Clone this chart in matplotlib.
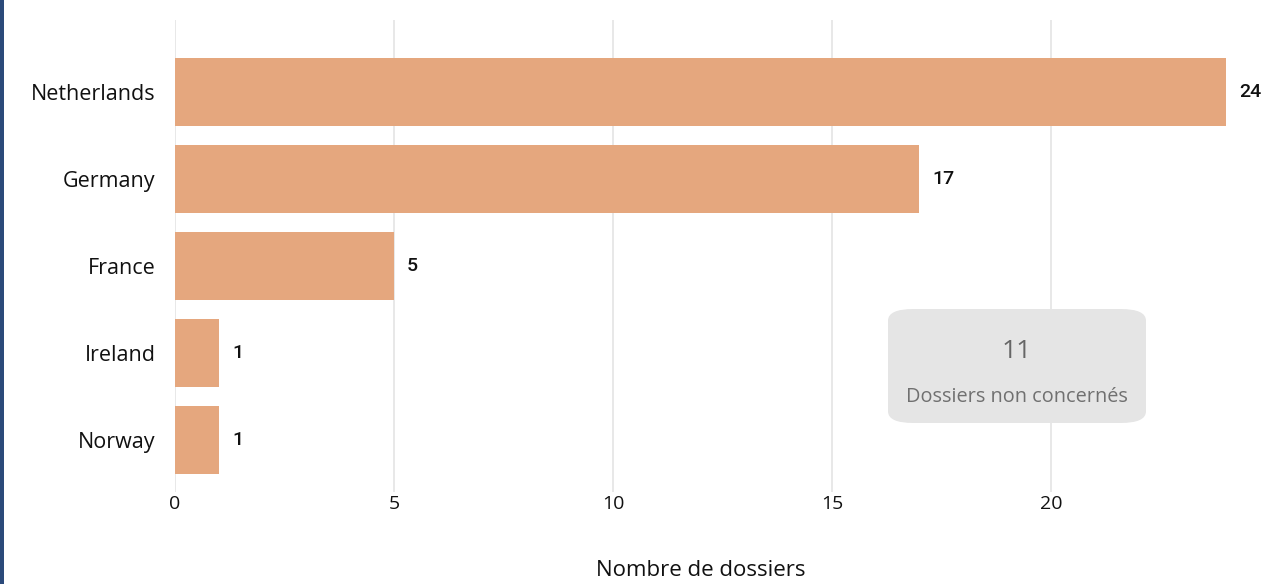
import matplotlib.pyplot as plt
from matplotlib.patches import FancyBboxPatch, Rectangle

pays = ["Netherlands", "Germany", "France", "Ireland", "Norway"]
dossiers = [24, 17, 5, 1, 1]
non_concernes = 11
xticks = [0, 5, 10, 15, 20]

plt.rcParams['font.family'] = ['Open Sans', 'DejaVu Sans']

W, H = 1266, 584
fig = plt.figure(figsize=(W / 100, H / 100), dpi=100)
ax = fig.add_axes([175 / W, 1 - 492 / H, (1226 - 175) / W, (492 - 20) / H])

y = list(range(len(pays)))
ax.barh(y, dossiers, height=0.78, color="#E5A77E", zorder=2)
for yi, v in zip(y, dossiers):
    ax.text(v + 0.3, yi, str(v), va="center", ha="left", fontsize=14,
            fontweight="medium", family=["Roboto", "DejaVu Sans"], color="#111111")

ax.set_xlim(0, 24)
ax.set_ylim(4.6, -0.83)
ax.set_yticks(y)
ax.set_yticklabels(pays, fontsize=15.5, color="#111111")
ax.set_xticks(xticks)
ax.set_xticklabels([str(t) for t in xticks], fontsize=14, color="#111111")
ax.tick_params(axis="y", length=0, pad=14)
ax.tick_params(axis="x", length=0, pad=2)
ax.grid(axis="x", color="#E8E8E8", linewidth=1.4, zorder=0)
for s in ax.spines.values():
    s.set_visible(False)
ax.set_xlabel("Nombre de dossiers", fontsize=16, color="#111111", labelpad=34)

# encart des dossiers non concernés
box = FancyBboxPatch((888 / W, 1 - 423 / H), (1146 - 888) / W, (423 - 309) / H,
                     boxstyle="round,pad=0,rounding_size=0.02", transform=fig.transFigure,
                     facecolor="#E5E5E5", edgecolor="none", zorder=5)
fig.patches.append(box)
fig.text(1017 / W, 1 - 352 / H, str(non_concernes), ha="center", va="center",
         fontsize=19, color="#666666", zorder=6)
fig.text(1017 / W, 1 - 397 / H, "Dossiers non concernés", ha="center", va="center",
         fontsize=14.3, color="#707070", zorder=6)

# barre latérale
fig.patches.append(Rectangle((0, 0), 4 / W, 1, transform=fig.transFigure,
                             facecolor="#2B4A7A", edgecolor="none"))

fig.savefig("out.png", dpi=100)
